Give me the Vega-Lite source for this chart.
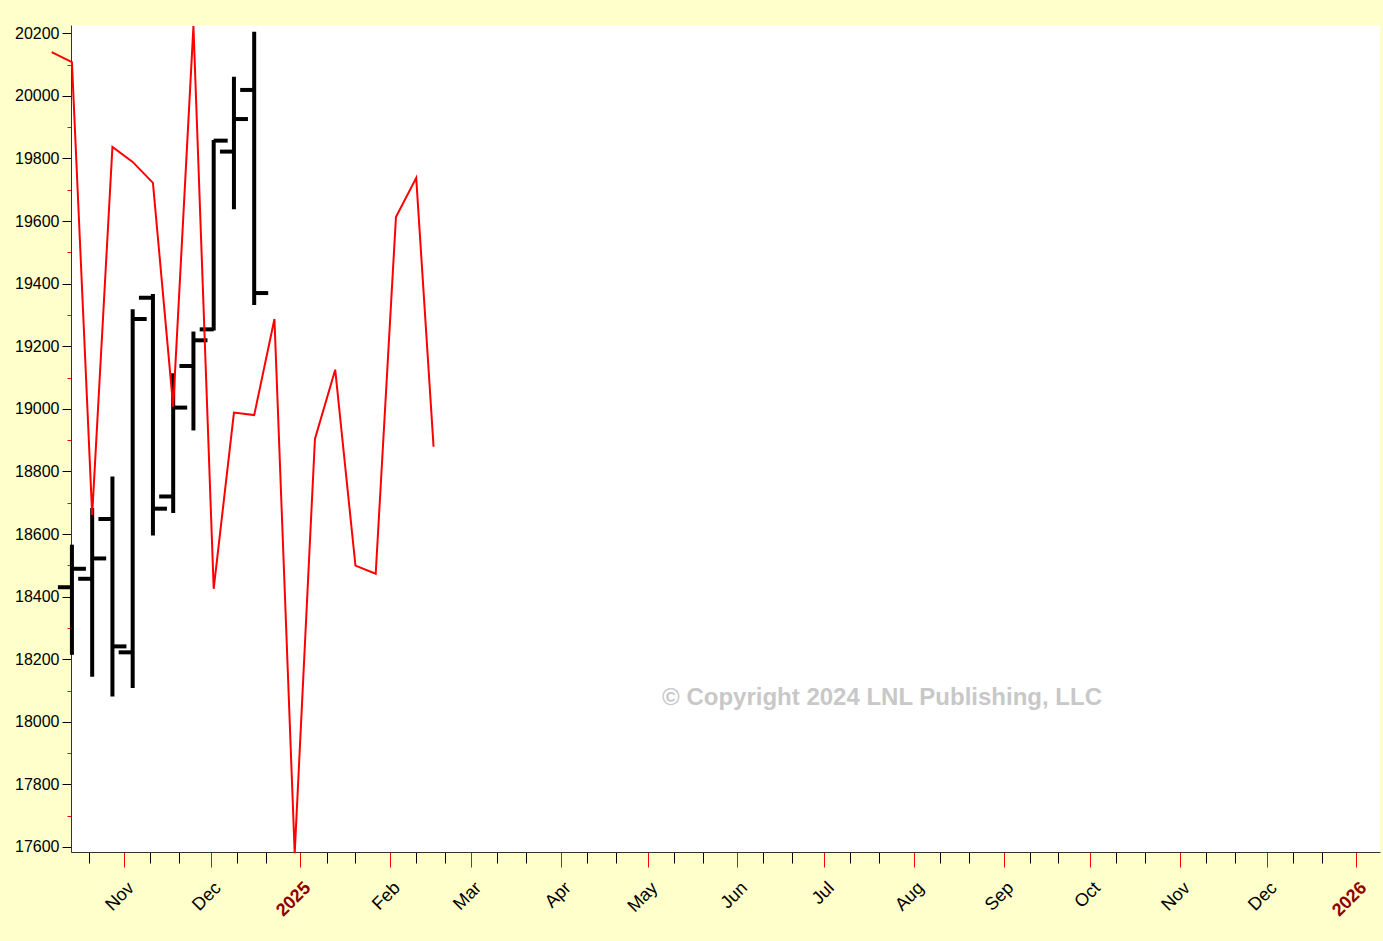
{
  "$schema": "https://vega.github.io/schema/vega-lite/v6.json",
  "autosize": "none",
  "width": 1309,
  "height": 827,
  "padding": {"left": 71, "top": 25, "right": 3, "bottom": 89},
  "background": "#FFFFCC",
  "config": {
    "view": {"fill": "white", "stroke": null},
    "font": "Liberation Sans",
    "axis": {"grid": false, "title": null, "domainColor": "#333333", "domainWidth": 1, "labelFont": "Liberation Sans"}
  },
  "datasets": {
    "bars": [
      {"date": "2024-10-14", "open": 18430, "high": 18566, "low": 18214, "close": 18489},
      {"date": "2024-10-21", "open": 18457, "high": 18683, "low": 18144, "close": 18522},
      {"date": "2024-10-28", "open": 18648, "high": 18784, "low": 18081, "close": 18241},
      {"date": "2024-11-04", "open": 18222, "high": 19318, "low": 18108, "close": 19287},
      {"date": "2024-11-11", "open": 19355, "high": 19367, "low": 18595, "close": 18681},
      {"date": "2024-11-18", "open": 18720, "high": 19114, "low": 18667, "close": 19004},
      {"date": "2024-11-25", "open": 19137, "high": 19247, "low": 18931, "close": 19219},
      {"date": "2024-12-02", "open": 19254, "high": 19859, "low": 19250, "close": 19857},
      {"date": "2024-12-09", "open": 19822, "high": 20061, "low": 19638, "close": 19926},
      {"date": "2024-12-16", "open": 20019, "high": 20205, "low": 19332, "close": 19370}
    ],
    "forecast": [
      {"date": "2024-10-07", "value": 20140},
      {"date": "2024-10-14", "value": 20108},
      {"date": "2024-10-21", "value": 18661},
      {"date": "2024-10-28", "value": 19837},
      {"date": "2024-11-04", "value": 19789},
      {"date": "2024-11-11", "value": 19722},
      {"date": "2024-11-18", "value": 19007},
      {"date": "2024-11-25", "value": 20223},
      {"date": "2024-12-02", "value": 18425},
      {"date": "2024-12-09", "value": 18988},
      {"date": "2024-12-16", "value": 18980},
      {"date": "2024-12-23", "value": 19287},
      {"date": "2024-12-30", "value": 17580},
      {"date": "2025-01-06", "value": 18904},
      {"date": "2025-01-13", "value": 19125},
      {"date": "2025-01-20", "value": 18499},
      {"date": "2025-01-27", "value": 18473},
      {"date": "2025-02-03", "value": 19613},
      {"date": "2025-02-10", "value": 19738},
      {"date": "2025-02-16", "value": 18879}
    ],
    "note": [
      {"date": "2025-07-21", "value": 18077, "label": "© Copyright 2024 LNL Publishing, LLC"}
    ]
  },
  "encoding": {
    "x": {
      "field": "date",
      "type": "temporal",
      "scale": {
        "type": "utc",
        "domain": [
          {"year": 2024, "month": 10, "date": 13, "hours": 16, "minutes": 20, "utc": true},
          {"year": 2026, "month": 1, "date": 9, "hours": 3, "utc": true}
        ]
      },
      "axis": {
        "values": [
          {"year": 2024, "month": 10, "date": 20, "utc": true},
          {"year": 2024, "month": 11, "date": 1, "utc": true},
          {"year": 2024, "month": 11, "date": 10, "utc": true},
          {"year": 2024, "month": 11, "date": 20, "utc": true},
          {"year": 2024, "month": 12, "date": 1, "utc": true},
          {"year": 2024, "month": 12, "date": 10, "utc": true},
          {"year": 2024, "month": 12, "date": 20, "utc": true},
          {"year": 2025, "month": 1, "date": 1, "utc": true},
          {"year": 2025, "month": 1, "date": 10, "utc": true},
          {"year": 2025, "month": 1, "date": 20, "utc": true},
          {"year": 2025, "month": 2, "date": 1, "utc": true},
          {"year": 2025, "month": 2, "date": 10, "utc": true},
          {"year": 2025, "month": 2, "date": 20, "utc": true},
          {"year": 2025, "month": 3, "date": 1, "utc": true},
          {"year": 2025, "month": 3, "date": 10, "utc": true},
          {"year": 2025, "month": 3, "date": 20, "utc": true},
          {"year": 2025, "month": 4, "date": 1, "utc": true},
          {"year": 2025, "month": 4, "date": 10, "utc": true},
          {"year": 2025, "month": 4, "date": 20, "utc": true},
          {"year": 2025, "month": 5, "date": 1, "utc": true},
          {"year": 2025, "month": 5, "date": 10, "utc": true},
          {"year": 2025, "month": 5, "date": 20, "utc": true},
          {"year": 2025, "month": 6, "date": 1, "utc": true},
          {"year": 2025, "month": 6, "date": 10, "utc": true},
          {"year": 2025, "month": 6, "date": 20, "utc": true},
          {"year": 2025, "month": 7, "date": 1, "utc": true},
          {"year": 2025, "month": 7, "date": 10, "utc": true},
          {"year": 2025, "month": 7, "date": 20, "utc": true},
          {"year": 2025, "month": 8, "date": 1, "utc": true},
          {"year": 2025, "month": 8, "date": 10, "utc": true},
          {"year": 2025, "month": 8, "date": 20, "utc": true},
          {"year": 2025, "month": 9, "date": 1, "utc": true},
          {"year": 2025, "month": 9, "date": 10, "utc": true},
          {"year": 2025, "month": 9, "date": 20, "utc": true},
          {"year": 2025, "month": 10, "date": 1, "utc": true},
          {"year": 2025, "month": 10, "date": 10, "utc": true},
          {"year": 2025, "month": 10, "date": 20, "utc": true},
          {"year": 2025, "month": 11, "date": 1, "utc": true},
          {"year": 2025, "month": 11, "date": 10, "utc": true},
          {"year": 2025, "month": 11, "date": 20, "utc": true},
          {"year": 2025, "month": 12, "date": 1, "utc": true},
          {"year": 2025, "month": 12, "date": 10, "utc": true},
          {"year": 2025, "month": 12, "date": 20, "utc": true},
          {"year": 2026, "month": 1, "date": 1, "utc": true}
        ],
        "labelExpr": "utcdate(datum.value) == 1 ? (utcmonth(datum.value) == 0 ? utcFormat(datum.value, '%Y') : utcFormat(datum.value, '%b')) : ''",
        "labelAngle": -45,
        "labelAlign": "right",
        "labelBaseline": "middle",
        "labelFontSize": 18,
        "labelOffset": 7,
        "labelPadding": 18,
        "labelOverlap": false,
        "labelFlush": false,
        "labelBound": false,
        "labelColor": {"condition": {"test": "utcdate(datum.value) == 1 && utcmonth(datum.value) == 0", "value": "#8B0000"}, "value": "#000000"},
        "labelFontWeight": {"condition": {"test": "utcdate(datum.value) == 1 && utcmonth(datum.value) == 0", "value": "bold"}, "value": "normal"},
        "tickColor": {"condition": {"test": "utcdate(datum.value) == 1", "value": "#FF0000"}, "value": "#000000"},
        "tickSize": {"condition": {"test": "utcdate(datum.value) == 1", "value": 15}, "value": 11},
        "tickWidth": 1
      }
    },
    "y": {
      "type": "quantitative",
      "scale": {"domain": [17584, 20226.5], "nice": false, "zero": false},
      "axis": {
        "values": [17600, 17700, 17800, 17900, 18000, 18100, 18200, 18300, 18400, 18500, 18600, 18700, 18800, 18900, 19000, 19100, 19200, 19300, 19400, 19500, 19600, 19700, 19800, 19900, 20000, 20100, 20200],
        "labelExpr": "datum.value % 200 == 0 ? format(datum.value, 'd') : ''",
        "labelFontSize": 16,
        "labelColor": "#000000",
        "labelPadding": 3,
        "labelOverlap": false,
        "labelFlush": false,
        "tickColor": {"condition": {"test": "datum.value % 200 == 0", "value": "#000000"}, "value": "#FF0000"},
        "tickSize": {"condition": {"test": "datum.value % 200 == 0", "value": 9}, "value": 4},
        "tickWidth": 1
      }
    }
  },
  "layer": [
    {
      "data": {"name": "bars"},
      "mark": {"type": "rule", "color": "#000000", "strokeWidth": 4},
      "encoding": {"y": {"field": "low"}, "y2": {"field": "high"}}
    },
    {
      "data": {"name": "bars"},
      "mark": {"type": "tick", "orient": "horizontal", "color": "#000000", "size": 14, "thickness": 4, "xOffset": -7, "opacity": 1},
      "encoding": {"y": {"field": "open"}}
    },
    {
      "data": {"name": "bars"},
      "mark": {"type": "tick", "orient": "horizontal", "color": "#000000", "size": 14, "thickness": 4, "xOffset": 7, "opacity": 1},
      "encoding": {"y": {"field": "close"}}
    },
    {
      "data": {"name": "forecast"},
      "mark": {"type": "line", "color": "#FF0000", "strokeWidth": 2},
      "encoding": {"y": {"field": "value"}}
    },
    {
      "data": {"name": "note"},
      "mark": {"type": "text", "font": "Liberation Sans", "fontSize": 24, "fontWeight": "bold", "color": "#C8C8C8", "align": "center", "baseline": "middle"},
      "encoding": {"y": {"field": "value"}, "text": {"field": "label"}}
    }
  ]
}
